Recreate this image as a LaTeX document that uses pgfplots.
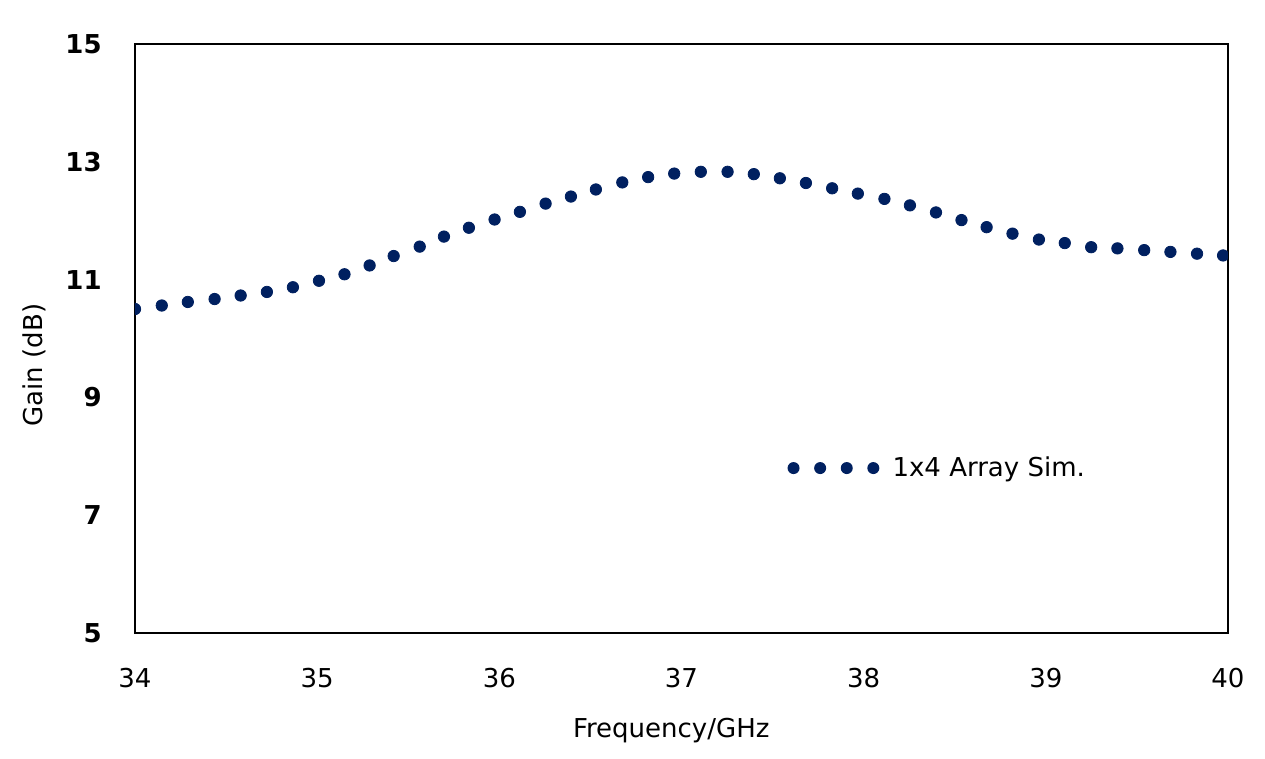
\documentclass[border=0pt]{standalone}
\usepackage{fontspec}
\setmainfont{DejaVu Sans}
\usepackage{pgfplots}
\pgfplotsset{compat=1.18}
\definecolor{navy}{HTML}{002060}
\begin{document}
\begin{tikzpicture}
\useasboundingbox (-67.5pt,-63pt) rectangle (565pt,316.5pt);
\begin{axis}[
  at={(0pt,0pt)}, anchor=south west,
  scale only axis, width=546.5pt, height=294.5pt,
  xmin=34, xmax=40, ymin=5, ymax=15,
  xtick={34,35,...,40}, ytick={5,7,...,15},
  major tick length=0pt,
  clip marker paths=true,
  axis line style={line width=0.9pt, black},
  /pgf/number format/assume math mode=true,
  xticklabel style={font=\fontsize{13}{15}\selectfont, anchor=north, inner sep=0pt, yshift=-17.5pt},
  yticklabel style={font=\fontsize{13}{15}\selectfont\bfseries, anchor=east, inner sep=0pt, xshift=-16.5pt},
  xlabel={Frequency/GHz},
  ylabel={Gain (dB)},
  xlabel style={font=\fontsize{13}{15}\selectfont, at={(axis description cs:0.4906,-0.178)}, anchor=base, inner sep=0pt},
  ylabel style={font=\fontsize{13}{15}\selectfont, at={(axis description cs:-0.0842,0.455)}, anchor=base, rotate=0, inner sep=0pt},
  legend style={draw=none, fill=none, inner sep=0pt, at={(axis cs:37.580,7.80)}, anchor=west,
    nodes={inner sep=0pt, font=\fontsize{13}{15}\selectfont}},
  legend image code/.code={
    \fill[navy,draw=none] (0pt,0pt) circle (3.0pt) (13.3pt,0pt) circle (3.0pt) (26.6pt,0pt) circle (3.0pt) (39.9pt,0pt) circle (3.0pt);
    \path[draw=none,fill=none] (-2.6pt,-0.1pt) rectangle (49.5pt,0.1pt);
  },
]
\addplot[only marks, mark=*, mark size=2.85pt, color=navy, mark options={draw=navy, fill=navy}] coordinates {
(34.000,10.50) (34.147,10.56) (34.290,10.62) (34.437,10.67) (34.580,10.73)
(34.724,10.79) (34.867,10.87) (35.010,10.98) (35.150,11.09) (35.288,11.24)
(35.420,11.40) (35.563,11.56) (35.696,11.73) (35.833,11.88) (35.974,12.02)
(36.113,12.15) (36.254,12.29) (36.393,12.41) (36.530,12.53) (36.675,12.65)
(36.817,12.74) (36.960,12.80) (37.106,12.83) (37.253,12.83) (37.397,12.79)
(37.540,12.72) (37.683,12.64) (37.827,12.55) (37.968,12.46) (38.114,12.37)
(38.254,12.26) (38.397,12.14) (38.537,12.01) (38.675,11.89) (38.817,11.78)
(38.962,11.68) (39.104,11.62) (39.249,11.55) (39.393,11.53) (39.540,11.50)
(39.684,11.47) (39.830,11.44) (39.973,11.41)
};
\addlegendentry{1x4 Array Sim.}
\end{axis}
\end{tikzpicture}
\end{document}
